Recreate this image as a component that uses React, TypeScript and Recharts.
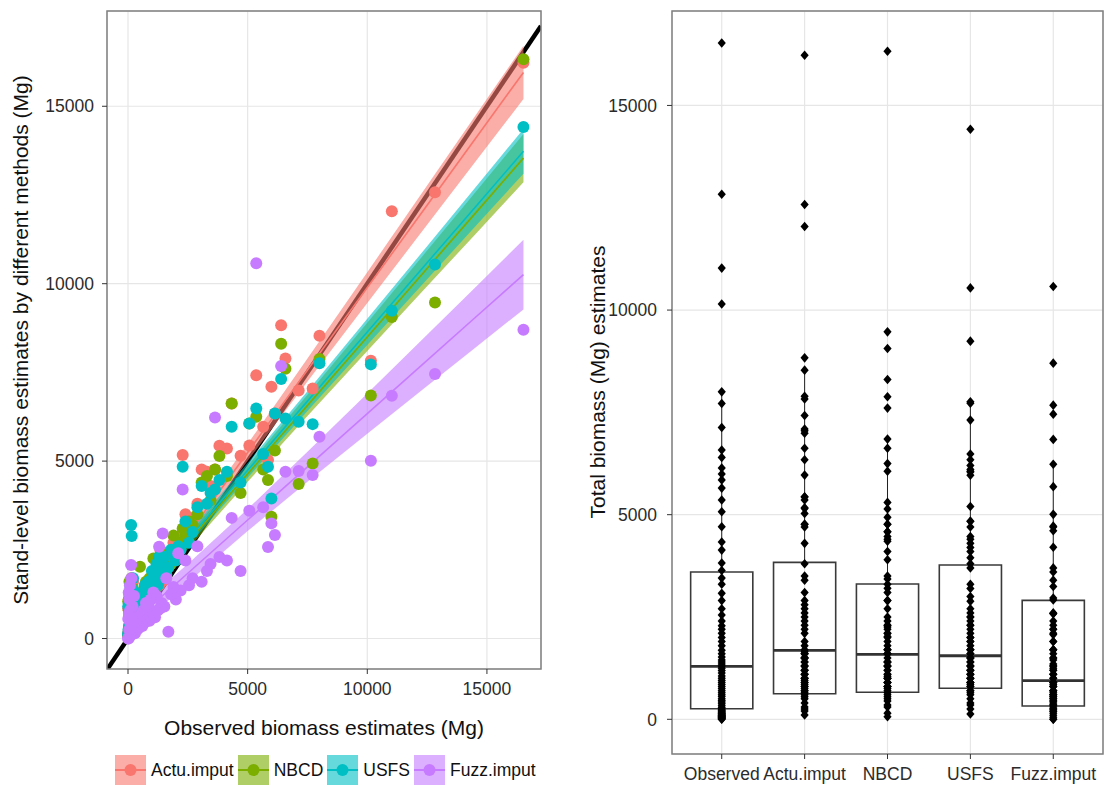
import React from "react";
import {
  ComposedChart,
  Scatter,
  Line,
  Area,
  XAxis,
  YAxis,
  CartesianGrid,
  ReferenceLine,
  ReferenceArea,
} from "recharts";

const font = '"Liberation Sans", Arial, Helvetica, sans-serif';

// methods and colours (ggplot hue palette)
const methods = ["Actu.imput", "NBCD", "USFS", "Fuzz.imput"];
const colors = ["#F8766D", "#7CAE00", "#00BFC4", "#C77CFF"];
const boxCategories = ["Observed", "Actu.imput", "NBCD", "USFS", "Fuzz.imput"];

// per-stand values (Mg), same order in every array
const observed = [
  16527, 12830, 11026, 10150, 8002, 7717, 7132, 6580, 6400, 6140, 5993, 5850, 5650, 5360, 5071, 4705, 4333, 4135, 3820, 3636,
  3450, 3300, 3078, 2900, 2700, 2550, 2400, 2285, 2200, 2100, 2000, 1900, 1800, 1687, 1600, 1520, 1450, 1400, 1350, 1300,
  1250, 1190, 1130, 1060, 1000, 950, 900, 850, 800, 750, 700, 650, 600, 560, 500, 460, 420, 380, 330, 290,
  250, 230, 210, 190, 170, 155, 140, 130, 115, 100, 90, 80, 70, 60, 50, 40, 30, 20, 10, 0,
];
const actuImput = [
  16226, 12580, 12042, 7825, 8532, 7048, 6990, 7893, 8832, 6343, 7093, 5028, 5967, 7422, 5437, 5154, 6625, 5357, 5431, 4766,
  4300, 4700, 4766, 3800, 3400, 3100, 3500, 5169, 2900, 2800, 2600, 2700, 2300, 2100, 2400, 1650, 2200, 1600, 2500, 1500,
  1700, 1900, 1500, 1800, 1400, 1600, 1300, 1500, 1200, 1400, 1100, 1300, 1000, 1200, 1100, 900, 1000, 800, 950, 700,
  800, 650, 1600, 600, 900, 700, 1500, 500, 1200, 400, 1000, 750, 300, 1300, 550, 250, 1100, 200, 850, 105,
];
const nbcd = [
  16324, 9468, 9062, 6847, 7880, 4935, 4352, 7604, 8305, 5300, 3431, 4465, 4766, 6248, 6062, 4100, 6625, 4580, 5141, 4766,
  3900, 4580, 4400, 3500, 3200, 3300, 2900, 3100, 2700, 2500, 2300, 2900, 2100, 2400, 2000, 2200, 1900, 1700, 2100, 2300,
  1600, 1800, 1400, 2258, 1500, 1300, 1700, 1400, 1200, 1600, 1000, 1300, 1100, 900, 2023, 1000, 800, 1100, 700, 900,
  600, 750, 1400, 500, 1200, 800, 1700, 650, 1000, 450, 1300, 550, 350, 1600, 900, 300, 800, 150, 1050, 64,
];
const usfs = [
  14419, 10542, 9240, 7726, 7757, 6042, 6107, 6203, 7311, 6343, 3949, 4840, 5200, 6484, 6062, 4400, 5966, 4700, 4465, 4200,
  4100, 3800, 4300, 3700, 3000, 2700, 3300, 4840, 2500, 2600, 2200, 2400, 2500, 2000, 1800, 2300, 1700, 2000, 1900, 2300,
  1500, 2100, 1700, 1600, 1900, 1400, 1200, 1600, 1300, 1100, 1500, 1200, 900, 1300, 1000, 1100, 800, 1000, 700, 850,
  900, 700, 1700, 600, 1300, 2887, 1400, 3197, 1100, 500, 1500, 800, 400, 1200, 650, 350, 1000, 250, 900, 130,
];
const fuzzImput = [
  8703, 7457, 6839, 5008, 5685, 4606, 4720, 4699, 7677, 2915, 3245, 2580, 3700, 10576, 3600, 1900, 3400, 2200, 2300, 6231,
  2100, 1900, 1600, 2600, 1700, 1500, 2200, 4203, 1350, 2400, 1100, 1450, 1250, 190, 1700, 900, 2962, 1000, 850, 2586,
  800, 1200, 600, 1300, 700, 1100, 500, 900, 650, 1000, 450, 800, 350, 700, 550, 300, 600, 250, 450, 150,
  1200, 350, 500, 900, 200, 600, 1700, 2070, 400, 100, 800, 1500, 50, 1100, 250, 700, 1300, 0, 550, 0,
];
const estimates = [actuImput, nbcd, usfs, fuzzImput];

// fitted linear smooths with confidence half-widths, read at these x values
const fitX = [0, 2500, 5000, 7500, 10000, 12500, 14500, 16527];
const actuFit = [600, 2923, 5245, 7568, 9890, 12213, 14071, 15954];
const actuSe = [237, 200, 237, 326, 435, 553, 650, 750];
const nbcdFit = [780, 2710, 4640, 6570, 8500, 10430, 11974, 13539];
const nbcdSe = [225, 190, 225, 300, 398, 503, 592, 680];
const usfsFit = [840, 2790, 4740, 6690, 8640, 10590, 12150, 13731];
const usfsSe = [210, 180, 210, 280, 370, 466, 547, 630];
const fuzzFit = [340, 1840, 3340, 4840, 6340, 7840, 9040, 10256];
const fuzzSe = [310, 260, 310, 425, 568, 722, 849, 980];
const fits = [actuFit, nbcdFit, usfsFit, fuzzFit];
const ses = [actuSe, nbcdSe, usfsSe, fuzzSe];

// boxplot statistics
const boxQ1 = [259, 625, 660, 757, 325];
const boxMedian = [1295, 1685, 1588, 1553, 943];
const boxQ3 = [3598, 3835, 3305, 3769, 2907];
const whiskerLo = [0, 105, 64, 130, 0];
const whiskerHi = [8002, 8532, 6847, 7757, 6210];

const leftXDomain = [-878, 17260];
const leftYDomain = [-859, 17685];
const rightYDomain = [-848, 17308];
const majorTicks = [0, 5000, 10000, 15000];
const minorTicks = [2500, 7500, 12500];

// 1:1 reference line across the panel
const identityLine = [
  { x: leftYDomain[0], y: leftYDomain[0] },
  { x: leftXDomain[1], y: leftXDomain[1] },
];

const fitTable = fitX.map((x, i) => {
  const row: any = { x };
  methods.forEach((m, k) => {
    row["fit" + k] = fits[k][i];
    row["band" + k] = [fits[k][i] - ses[k][i], fits[k][i] + ses[k][i]];
  });
  return row;
});

const tickStyle = { fontSize: 17.5, fill: "#2b2b2b", fontFamily: font };

const minorH = (p: any) =>
  p && p.yAxis && typeof p.yAxis.scale === "function" ? minorTicks.map((t) => p.yAxis.scale(t)) : [];
const minorV = (p: any) =>
  p && p.xAxis && typeof p.xAxis.scale === "function" ? minorTicks.map((t) => p.xAxis.scale(t)) : [];

const dot = (color: string) => (p: any) => <circle cx={p.cx} cy={p.cy} r={6} fill={color} />;
const diamond = (p: any) => (
  <polygon
    points={`${p.cx},${p.cy - 4.8} ${p.cx + 4.1},${p.cy} ${p.cx},${p.cy + 4.8} ${p.cx - 4.1},${p.cy}`}
    fill="#000"
  />
);

function LeftPanel() {
  return (
    <ComposedChart
      width={560}
      height={787}
      data={fitTable}
      margin={{ top: 11, right: 19, left: 10, bottom: 58 }}
    >
      <CartesianGrid
        stroke="#F4F4F4"
        horizontalCoordinatesGenerator={minorH}
        verticalCoordinatesGenerator={minorV}
      />
      <CartesianGrid stroke="#E6E6E6" strokeWidth={1.2} />
      <XAxis
        type="number"
        dataKey="x"
        domain={leftXDomain}
        ticks={majorTicks}
        interval={0}
        allowDataOverflow
        height={60}
        axisLine={false}
        tickSize={5}
        tickMargin={9}
        tickLine={{ stroke: "#333" }}
        tick={tickStyle}
      />
      <YAxis
        type="number"
        dataKey="y"
        domain={leftYDomain}
        ticks={majorTicks}
        interval={0}
        allowDataOverflow
        width={97}
        axisLine={false}
        tickSize={5}
        tickMargin={8}
        tickLine={{ stroke: "#333" }}
        tick={tickStyle}
      />
      {methods.map((m, k) => (
        <Scatter
          key={m}
          name={m}
          data={observed.map((o, i) => ({ x: o, y: estimates[k][i] }))}
          shape={dot(colors[k])}
          isAnimationActive={false}
        />
      ))}
      <Area
        data={identityLine}
        dataKey="y"
        type="linear"
        stroke="#000"
        strokeWidth={4.5}
        fill="none"
        isAnimationActive={false}
      />
      {methods.map((m, k) => (
        <Area
          key={"a" + m}
          type="linear"
          dataKey={"band" + k}
          stroke="none"
          fill={colors[k]}
          fillOpacity={0.6}
          isAnimationActive={false}
        />
      ))}
      {methods.map((m, k) => (
        <Line
          key={"l" + m}
          type="linear"
          dataKey={"fit" + k}
          stroke={colors[k]}
          strokeWidth={1.6}
          dot={false}
          isAnimationActive={false}
        />
      ))}
      <ReferenceArea
        x1={leftXDomain[0]}
        x2={leftXDomain[1]}
        y1={leftYDomain[0]}
        y2={leftYDomain[1]}
        fill="none"
        stroke="#7F7F7F"
        strokeWidth={1.5}
        ifOverflow="visible"
      />
    </ComposedChart>
  );
}

function RightPanel() {
  return (
    <ComposedChart width={552} height={787} margin={{ top: 11, right: 9, left: 12, bottom: 0 }}>
      <CartesianGrid stroke="#F4F4F4" vertical={false} horizontalCoordinatesGenerator={minorH} />
      <CartesianGrid stroke="#E6E6E6" strokeWidth={1.2} />
      <XAxis
        type="number"
        dataKey="x"
        domain={[0.4, 5.6]}
        ticks={[1, 2, 3, 4, 5]}
        interval={0}
        allowDataOverflow
        tickFormatter={(v: number) => boxCategories[v - 1]}
        height={33}
        axisLine={false}
        tickSize={5}
        tickMargin={9}
        tickLine={{ stroke: "#333" }}
        tick={tickStyle}
      />
      <YAxis
        type="number"
        dataKey="y"
        domain={rightYDomain}
        ticks={majorTicks}
        interval={0}
        allowDataOverflow
        width={100}
        axisLine={false}
        tickSize={5}
        tickMargin={10}
        tickLine={{ stroke: "#333" }}
        tick={tickStyle}
      />
      {boxCategories.map((c, i) => (
        <ReferenceLine
          key={"wl" + c}
          segment={[
            { x: i + 1, y: whiskerLo[i] },
            { x: i + 1, y: boxQ1[i] },
          ]}
          stroke="#222"
          strokeWidth={1}
        />
      ))}
      {boxCategories.map((c, i) => (
        <ReferenceLine
          key={"wh" + c}
          segment={[
            { x: i + 1, y: boxQ3[i] },
            { x: i + 1, y: whiskerHi[i] },
          ]}
          stroke="#222"
          strokeWidth={1}
        />
      ))}
      {boxCategories.map((c, i) => (
        <ReferenceArea
          key={"b" + c}
          x1={i + 1 - 0.375}
          x2={i + 1 + 0.375}
          y1={boxQ1[i]}
          y2={boxQ3[i]}
          fill="none"
          stroke="#3a3a3a"
          strokeWidth={1.6}
        />
      ))}
      {boxCategories.map((c, i) => (
        <ReferenceLine
          key={"m" + c}
          segment={[
            { x: i + 1 - 0.375, y: boxMedian[i] },
            { x: i + 1 + 0.375, y: boxMedian[i] },
          ]}
          stroke="#333"
          strokeWidth={2.8}
        />
      ))}
      {[observed, ...estimates].map((vals, i) => (
        <Scatter
          key={"p" + i}
          data={vals.map((v) => ({ x: i + 1, y: v }))}
          shape={diamond}
          isAnimationActive={false}
        />
      ))}
      <ReferenceArea
        x1={0.4}
        x2={5.6}
        y1={rightYDomain[0]}
        y2={rightYDomain[1]}
        fill="none"
        stroke="#7F7F7F"
        strokeWidth={1.5}
        ifOverflow="visible"
      />
    </ComposedChart>
  );
}

function LegendKey({ color }: { color: string }) {
  return (
    <svg width={31} height={30} style={{ display: "block" }}>
      <rect x={0} y={0} width={31} height={30} fill={color} fillOpacity={0.6} />
      <line x1={0} y1={15} x2={31} y2={15} stroke={color} strokeWidth={2} />
      <circle cx={15.5} cy={15} r={6} fill={color} />
    </svg>
  );
}

export default function App() {
  const title = { position: "absolute" as const, fontSize: 21, color: "#111", whiteSpace: "nowrap" as const };
  return (
    <div
      style={{
        position: "absolute",
        left: 0,
        top: 0,
        width: 1112,
        height: 787,
        background: "#fff",
        fontFamily: font,
        overflow: "hidden",
      }}
    >
      <div style={{ position: "absolute", left: 0, top: 0 }}>
        <LeftPanel />
      </div>
      <div style={{ position: "absolute", left: 560, top: 0 }}>
        <RightPanel />
      </div>
      <div style={{ ...title, left: 324, top: 728, transform: "translate(-50%, -50%)" }}>
        Observed biomass estimates (Mg)
      </div>
      <div style={{ ...title, left: 21, top: 340, transform: "translate(-50%, -50%) rotate(-90deg)" }}>
        Stand-level biomass estimates by different methods (Mg)
      </div>
      <div style={{ ...title, left: 598, top: 382, transform: "translate(-50%, -50%) rotate(-90deg)" }}>
        Total biomass (Mg) estimates
      </div>
      <div
        style={{
          position: "absolute",
          left: 115,
          top: 755,
          display: "flex",
          alignItems: "center",
          fontSize: 17.5,
          color: "#111",
        }}
      >
        {methods.map((m, k) => (
          <div key={m} style={{ display: "flex", alignItems: "center", marginRight: 4 }}>
            <LegendKey color={colors[k]} />
            <span style={{ marginLeft: 5 }}>{m}</span>
          </div>
        ))}
      </div>
    </div>
  );
}
